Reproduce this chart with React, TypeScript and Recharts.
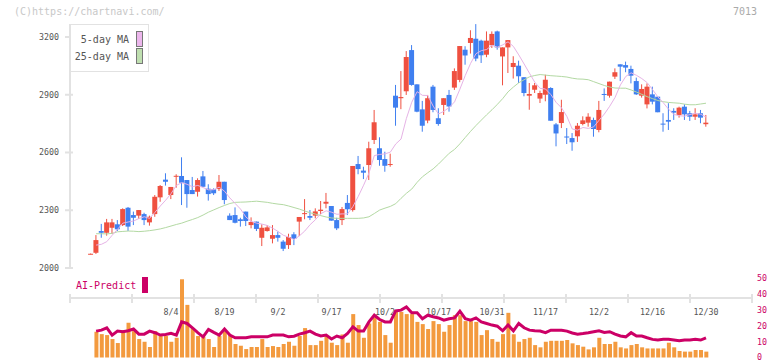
import { Bar, ComposedChart, Line, XAxis, YAxis } from 'recharts';

const FONT = "'DejaVu Sans Mono', monospace";
const RED = '#ef5040';
const BLUE = '#3f7ff0';
const MAGENTA = '#cc0066';
const ORANGE = '#f39a3e';
const AXIS = '#e2e2e2';
const INK = '#555';

// sessions are counted from 8/4 (0) to 12/30 (100)
const firstSession = -15;

const open = [
  2072, 2079, 2192, 2183, 2209, 2227, 2223, 2313, 2275, 2272, 2280, 2237, 2280, 2367, 2459,
  2379, 2476, 2478, 2457, 2405, 2396, 2476, 2412, 2409, 2410,
  2448, 2272, 2275, 2253, 2293, 2223, 2241, 2157, 2192, 2152,
  2171, 2137, 2119, 2175, 2241, 2282, 2270, 2272, 2296, 2334,
  2322, 2249, 2249, 2338, 2301, 2540, 2506, 2535, 2665, 2622,
  2566, 2537, 2895, 2882, 2918, 3132, 2954, 2824, 2766, 2942,
  2778, 2847, 2899, 2937, 2977, 3134, 3169, 3191, 3181, 3108,
  3157, 3229, 3099, 3146, 3044, 3051, 2991, 2895, 2926, 2880,
  2900, 2935, 2746, 2753, 2683, 2675, 2684, 2748, 2755, 2769,
  2717, 2904, 2895, 2994, 3058, 3054, 3034, 2971, 2895, 2850,
  2902, 2890, 2750, 2769, 2816, 2795, 2838, 2804, 2786, 2804, 2747,
];
const high = [
  2075, 2171, 2229, 2255, 2255, 2249, 2310, 2317, 2293, 2301, 2287, 2272, 2379, 2431, 2492,
  2421, 2487, 2575, 2457, 2473, 2466, 2504, 2435, 2414, 2483,
  2448, 2284, 2315, 2261, 2293, 2263, 2241, 2227, 2223, 2223,
  2189, 2145, 2178, 2186, 2265, 2358, 2301, 2310, 2348, 2390,
  2322, 2261, 2317, 2379, 2530, 2582, 2526, 2656, 2821, 2679,
  2604, 2594, 2951, 3023, 3127, 3158, 2954, 2868, 2899, 2951,
  2830, 2882, 2925, 3037, 3153, 3152, 3235, 3267, 3186, 3229,
  3229, 3233, 3146, 3184, 3100, 3077, 2991, 2961, 2961, 2921,
  3004, 2939, 2753, 2874, 2727, 2701, 2753, 2788, 2804, 2781,
  2868, 2933, 2968, 3037, 3058, 3072, 3051, 2989, 2954, 2959,
  2942, 2890, 2804, 2856, 2830, 2838, 2850, 2816, 2830, 2821, 2795,
];
const low = [
  2071, 2073, 2157, 2168, 2177, 2192, 2218, 2192, 2223, 2255, 2223, 2220, 2266, 2344, 2428,
  2358, 2417, 2327, 2313, 2384, 2371, 2422, 2350, 2379, 2400,
  2331, 2249, 2232, 2215, 2218, 2206, 2192, 2114, 2189, 2128,
  2137, 2088, 2099, 2119, 2166, 2253, 2249, 2258, 2279, 2310,
  2246, 2197, 2223, 2275, 2293, 2487, 2462, 2457, 2644, 2531,
  2500, 2526, 2739, 2825, 2899, 2947, 2809, 2708, 2752, 2809,
  2739, 2795, 2812, 2925, 2965, 3056, 3114, 3074, 3065, 3095,
  3143, 3134, 2949, 3013, 2984, 2961, 2892, 2822, 2909, 2857,
  2866, 2765, 2632, 2727, 2644, 2609, 2655, 2741, 2734, 2682,
  2705, 2868, 2885, 2982, 2971, 3017, 2959, 2899, 2885, 2829,
  2850, 2809, 2708, 2717, 2769, 2781, 2769, 2764, 2769, 2752, 2734,
];
const close = [
  2074, 2145, 2183, 2237, 2237, 2201, 2306, 2215, 2261, 2301, 2249, 2266, 2370, 2426, 2448,
  2421, 2479, 2443, 2384, 2384, 2457, 2422, 2384, 2388, 2448,
  2353, 2249, 2235, 2244, 2244, 2239, 2203, 2209, 2211, 2171,
  2157, 2100, 2161, 2151, 2265, 2285, 2261, 2294, 2303, 2344,
  2246, 2206, 2306, 2305, 2530, 2514, 2495, 2622, 2757, 2561,
  2531, 2540, 2833, 2888, 3096, 2951, 2812, 2739, 2882, 2821,
  2748, 2882, 2839, 3023, 3153, 3104, 3195, 3088, 3105, 3181,
  3216, 3146, 3146, 3184, 3065, 2996, 2909, 2904, 2949, 2909,
  2978, 2765, 2699, 2810, 2681, 2653, 2739, 2767, 2786, 2722,
  2821, 2902, 2968, 3017, 3046, 3041, 2999, 2902, 2930, 2942,
  2864, 2809, 2748, 2760, 2807, 2833, 2798, 2786, 2798, 2781, 2755,
];
const ma5 = [
  null, 2119, 2123, 2137, 2170, 2201, 2233, 2239, 2244, 2257, 2266, 2258, 2289, 2322, 2352,
  2386, 2429, 2443, 2435, 2422, 2429, 2418, 2406, 2407, 2420,
  2399, 2364, 2335, 2306, 2265, 2242, 2233, 2228, 2221, 2207,
  2190, 2170, 2160, 2148, 2167, 2192, 2225, 2251, 2282, 2297,
  2290, 2279, 2281, 2281, 2319, 2372, 2430, 2493, 2584, 2590,
  2593, 2602, 2644, 2670, 2777, 2861, 2916, 2897, 2896, 2841,
  2800, 2814, 2834, 2863, 2929, 3000, 3063, 3113, 3129, 3135,
  3157, 3147, 3159, 3175, 3151, 3107, 3060, 3012, 2965, 2933,
  2930, 2901, 2860, 2832, 2787, 2722, 2716, 2730, 2725, 2733,
  2767, 2800, 2840, 2886, 2951, 2995, 3014, 3001, 2984, 2963,
  2927, 2889, 2859, 2825, 2798, 2791, 2789, 2797, 2804, 2799, 2784,
];
const ma25 = [
  null, 2178, 2178, 2177, 2180, 2188, 2190, 2192, 2191, 2189, 2191, 2194, 2198, 2203, 2210,
  2218, 2226, 2233, 2243, 2252, 2262, 2275, 2290, 2302, 2314,
  2325, 2335, 2341, 2342, 2343, 2345, 2347, 2344, 2341, 2336,
  2332, 2329, 2322, 2314, 2306, 2296, 2287, 2280, 2272, 2265,
  2260, 2258, 2258, 2258, 2258, 2258, 2260, 2266, 2283, 2301,
  2311, 2320, 2334, 2362, 2388, 2410, 2445, 2474, 2495, 2515,
  2540, 2568, 2596, 2616, 2645, 2678, 2710, 2740, 2768, 2796,
  2822, 2850, 2880, 2915, 2940, 2962, 2978, 2993, 3000, 3005,
  3002, 2999, 2997, 2995, 2992, 2986, 2982, 2981, 2978, 2968,
  2958, 2948, 2940, 2935, 2934, 2934, 2925, 2914, 2902, 2890,
  2880, 2870, 2864, 2860, 2858, 2856, 2851, 2848, 2848, 2852, 2856,
];
const volume = [
  null, 16.2, 14.7, 14.1, 11.6, 9.1, 17.2, 21.8, 16.6, 11.6, 9.9, 6.6, 16.6, 14.1, 13.5,
  9.9, 12.4, 49.2, 33.1, 18.3, 13.5, 13.0, 11.6, 6.6, 13.5,
  16.6, 14.1, 8.5, 7.4, 5.3, 6.6, 6.6, 11.6, 6.6, 7.2,
  6.6, 8.5, 9.9, 7.4, 13.5, 18.5, 7.8, 7.8, 10.5, 13.5,
  9.3, 7.8, 14.5, 9.3, 27.3, 20.4, 12.4, 21.4, 25.2, 22.4,
  14.1, 9.3, 29.8, 28.7, 27.3, 27.3, 22.4, 21.0, 17.9, 22.9,
  21.0, 16.2, 20.4, 26.6, 26.6, 22.9, 22.9, 22.4, 14.1, 17.2,
  11.6, 9.9, 14.7, 28.1, 14.7, 9.9, 11.6, 12.4, 7.8, 6.4,
  9.9, 10.5, 10.5, 10.5, 11.0, 8.9, 7.8, 6.8, 5.1, 6.4,
  12.4, 8.5, 8.5, 9.9, 6.4, 5.7, 7.8, 8.5, 6.4, 5.7,
  5.7, 5.7, 5.7, 9.3, 6.4, 4.1, 3.7, 3.7, 4.7, 4.7, 3.7,
];
const aiPredict = [
  null, 16.6, 17.2, 18.7, 14.1, 16.6, 16.2, 16.8, 17.9, 14.7, 14.7, 16.6, 15.6, 14.1, 14.5,
  15.2, 14.1, 22.4, 21.4, 18.7, 15.6, 13.0, 17.7, 15.8, 14.1,
  17.9, 14.1, 12.4, 12.4, 12.4, 13.0, 13.0, 13.0, 13.0, 14.1,
  14.1, 14.1, 13.0, 13.4, 14.7, 15.6, 16.6, 14.7, 13.5, 14.1,
  11.6, 13.5, 12.4, 15.2, 19.3, 16.6, 16.6, 22.4, 26.6, 23.9,
  22.4, 22.4, 29.3, 29.8, 31.8, 28.1, 28.1, 24.4, 26.6, 25.6,
  24.9, 23.5, 24.4, 24.9, 29.1, 24.4, 23.5, 24.9, 22.4, 21.4,
  20.4, 19.7, 16.8, 20.4, 16.8, 21.4, 18.7, 17.2, 16.8, 16.6,
  15.6, 17.2, 17.2, 17.2, 16.6, 15.4, 14.7, 15.1, 15.6, 16.2,
  16.8, 15.8, 16.2, 14.7, 13.5, 13.0, 15.6, 13.5, 13.5, 12.4,
  11.4, 11.0, 11.4, 11.4, 11.0, 10.5, 11.0, 11.0, 11.4, 11.0, 12.4,
];

const dateTicks = [0, 10, 20, 30, 40, 50, 60, 70, 80, 90, 100];
const dateLabels = ['8/4', '8/19', '9/2', '9/17', '10/2', '10/17', '10/31', '11/17', '12/2', '12/16', '12/30'];
const priceTicks = [2000, 2300, 2600, 2900, 3200];
const aiTicks = [0, 10, 20, 30, 40, 50];

const rows = close.map((c, k) => ({
  day: firstSession + k,
  open: open[k],
  high: high[k],
  low: low[k],
  close: c,
  ma5: ma5[k],
  ma25: ma25[k],
  volume: volume[k],
  ai: aiPredict[k],
}));

// plot edges in session units, 11 even grid divisions
const axisMin = -18.88;
const axisMax = 108.6;
const gridTicks = Array.from({ length: 12 }, (_, k) => axisMin + (k * (axisMax - axisMin)) / 11);
const axisTicks = [...gridTicks, ...dateTicks].sort((a, b) => a - b);
const sessionPad = { left: 18.075, right: 43.325 };

function Candle(props: any) {
  const { x, width, payload } = props;
  let { y, height } = props;
  if (height < 0) {
    y += height;
    height = -height;
  }
  const { open: o, close: c, high: h, low: l } = payload;
  const color = c >= o ? RED : BLUE;
  const per = height / (h - l || 1);
  const top = y + (h - Math.max(o, c)) * per;
  const body = Math.max(1, Math.abs(c - o) * per);
  const cx = x + width / 2;
  return (
    <g>
      <line x1={cx} x2={cx} y1={y} y2={y + height} stroke={color} strokeWidth={1} />
      <rect x={x} y={top} width={width} height={body} fill={color} />
    </g>
  );
}

function DayTick({ x, y, payload }: any) {
  const pos = dateTicks.indexOf(payload.value);
  if (pos >= 0) {
    return (
      <text x={x} y={y + 17} textAnchor="middle" fontSize={8.3} fill={INK} fontFamily={FONT}>
        {dateLabels[pos]}
      </text>
    );
  }
  return <line x1={x} x2={x} y1={y - 4} y2={y + 5} stroke={AXIS} strokeWidth={2} />;
}

function PriceTick({ x, y, payload }: any) {
  return (
    <g>
      <line x1={x - 5} x2={x + 3} y1={y} y2={y} stroke={AXIS} strokeWidth={2} />
      <text x={x - 11} y={y + 3} textAnchor="end" fontSize={8.3} fill={INK} fontFamily={FONT}>
        {payload.value}
      </text>
    </g>
  );
}

export default function App() {
  return (
    <div style={{ position: 'absolute', left: 0, top: 0, width: 772, height: 361, background: '#fff', fontFamily: FONT }}>
      <div style={{ position: 'absolute', left: 0, top: 0 }}>
        <ComposedChart width={772} height={361} data={rows} margin={{ top: 24, right: 20, bottom: 73, left: 0 }}>
          <XAxis xAxisId="day" dataKey="day" type="category" hide padding={sessionPad} />
          <XAxis
            xAxisId="grid"
            dataKey="day"
            type="number"
            domain={[axisMin, axisMax]}
            allowDataOverflow
            ticks={axisTicks}
            interval={0}
            height={20}
            tickLine={false}
            tickSize={0}
            tickMargin={0}
            axisLine={{ stroke: AXIS, strokeWidth: 2 }}
            tick={<DayTick />}
          />
          <YAxis
            domain={[2000, 3267.5]}
            allowDataOverflow
            ticks={priceTicks}
            interval={0}
            width={70}
            tickLine={false}
            tickSize={0}
            tickMargin={0}
            axisLine={{ stroke: AXIS, strokeWidth: 2 }}
            tick={<PriceTick />}
          />
          <Line xAxisId="day" dataKey="ma25" stroke="#b3d9a3" strokeWidth={1} dot={false} isAnimationActive={false} />
          <Line xAxisId="day" dataKey="ma5" stroke="#e6b3e6" strokeWidth={1} dot={false} isAnimationActive={false} />
          <Bar xAxisId="day" dataKey={(d: any) => [d.low, d.high]} barSize={5} shape={<Candle />} isAnimationActive={false} />
        </ComposedChart>
      </div>
      <div style={{ position: 'absolute', left: 0, top: 0 }}>
        <ComposedChart width={772} height={361} data={rows} margin={{ top: 278, right: 0, bottom: 3.5, left: 70 }}>
          <XAxis dataKey="day" type="category" hide padding={sessionPad} />
          <YAxis
            orientation="right"
            domain={[0, 50]}
            ticks={aiTicks}
            interval={0}
            width={20}
            axisLine={false}
            tickLine={false}
            tickSize={5}
            tickMargin={0}
            tick={{ fill: MAGENTA, fontSize: 8.3, fontFamily: FONT }}
          />
          <Bar dataKey="volume" barSize={4} fill={ORANGE} isAnimationActive={false} />
          <Line dataKey="ai" stroke={MAGENTA} strokeWidth={3} dot={false} isAnimationActive={false} />
        </ComposedChart>
      </div>

      <div style={{ position: 'absolute', left: 14, top: 5, fontSize: 10, color: '#c8c8c8', lineHeight: '14px' }}>
        (C)https://chartnavi.com/
      </div>
      <div style={{ position: 'absolute', right: 15, top: 5, fontSize: 10, color: '#aaa', lineHeight: '14px' }}>7013</div>

      <div style={{ position: 'absolute', left: 70, top: 24, width: 79, height: 48, boxSizing: 'border-box', border: `1px solid ${AXIS}`, background: '#fff' }} />
      <div style={{ position: 'absolute', left: 70, top: 33, width: 59, textAlign: 'right', fontSize: 10, color: INK, lineHeight: '14px' }}>5-day MA</div>
      <div style={{ position: 'absolute', left: 136, top: 31, width: 7, height: 16, boxSizing: 'border-box', border: '1px solid #777', background: '#ecb6ec' }} />
      <div style={{ position: 'absolute', left: 70, top: 50, width: 59, textAlign: 'right', fontSize: 10, color: INK, lineHeight: '14px' }}>25-day MA</div>
      <div style={{ position: 'absolute', left: 136, top: 48, width: 7, height: 16, boxSizing: 'border-box', border: '1px solid #777', background: '#bfdfb0' }} />

      <div style={{ position: 'absolute', left: 76, top: 279, fontSize: 10, color: MAGENTA, lineHeight: '14px' }}>AI-Predict</div>
      <div style={{ position: 'absolute', left: 142, top: 277, width: 6, height: 16, background: MAGENTA }} />
    </div>
  );
}
